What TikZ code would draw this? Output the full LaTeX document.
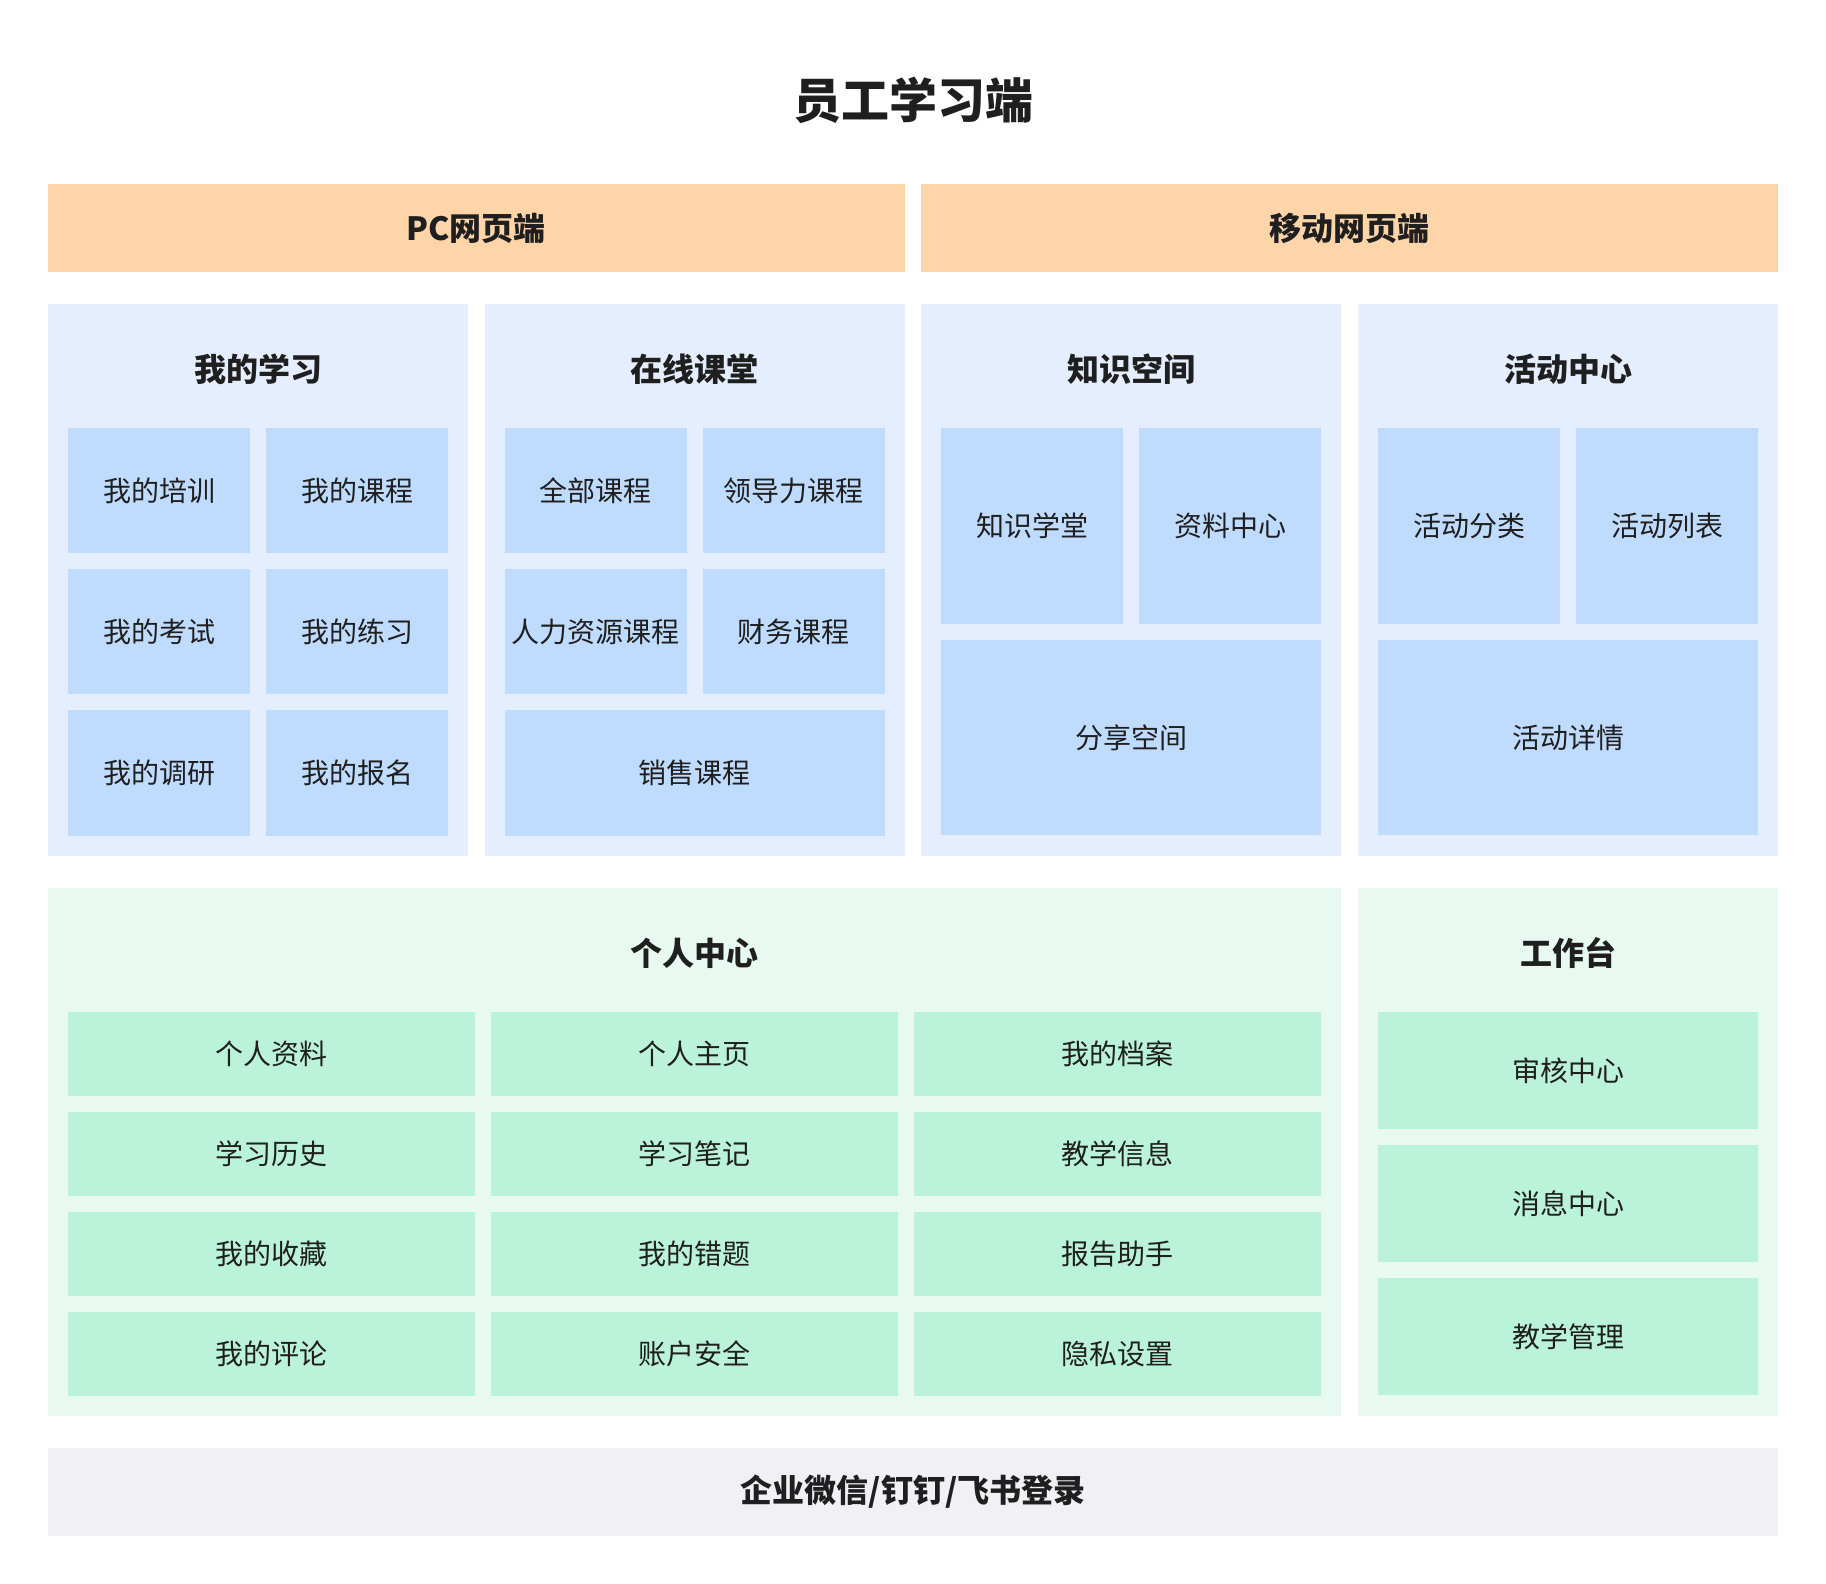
\documentclass[tikz,border=0pt]{standalone}
\usepackage{fontspec}
\usepackage{xcolor}
\newfontfamily\cjk{Noto Sans CJK SC}
\definecolor{barorange}{HTML}{FED5A9}
\definecolor{panelblue}{HTML}{E4EEFE}
\definecolor{itemblue}{HTML}{BFDBFE}
\definecolor{panelgreen}{HTML}{E8F9F1}
\definecolor{itemgreen}{HTML}{BAF3D9}
\definecolor{bargray}{HTML}{F0F0F5}
\definecolor{ink}{HTML}{1F1F1F}

\begin{document}
\begin{tikzpicture}[x=1pt, y=-1pt,
    every node/.style={inner sep=0pt, outer sep=0pt, text=ink},
    bigtitle/.style={font=\cjk\bfseries\fontsize{48}{48}\selectfont},
    topbar/.style={fill=barorange, minimum width=856.67pt, minimum height=88pt,
        font=\cjk\bfseries\fontsize{32}{32}\selectfont},
    panel/.style={minimum width=420pt, minimum height=552pt},
    head/.style={font=\cjk\bfseries\fontsize{32}{32}\selectfont},
    item/.style={font=\cjk\fontsize{28}{28}\selectfont},
    bitem/.style={item, fill=itemblue, minimum width=182pt, minimum height=125.2pt},
    gitem/.style={item, fill=itemgreen, minimum width=407.1pt, minimum height=83.9pt},
    witem/.style={item, fill=itemgreen, minimum width=380pt, minimum height=117.17pt}]

\useasboundingbox (0,0) rectangle (1826,1584);

       % title
\node[bigtitle] (title) at (913,100) {员工学习端};

       % top bars
\node[topbar] (pcbar) at (476.33,228) {PC网页端};
\node[topbar] (mobilebar) at (1349.67,228) {移动网页端};

       % blue panels
\node[panel, fill=panelblue] (study) at (258,580) {};
\node[panel, fill=panelblue] (course) at (694.67,580) {};
\node[panel, fill=panelblue] (know) at (1131.33,580) {};
\node[panel, fill=panelblue] (event) at (1568,580) {};
\node[head] (studyhead) at (258,369) {我的学习};
\node[head] (coursehead) at (694.67,369) {在线课堂};
\node[head] (knowhead) at (1131.33,369) {知识空间};
\node[head] (eventhead) at (1568,369) {活动中心};

	%my study
\node[bitem] (train) at (159,490.6) {我的培训};
\node[bitem] (mycourse) at (357,490.6) {我的课程};
\node[bitem] (exam) at (159,631.7) {我的考试};
\node[bitem] (practice) at (357,631.7) {我的练习};
\node[bitem] (survey) at (159,772.9) {我的调研};
\node[bitem] (signup) at (357,772.9) {我的报名};

	%online courses
\node[bitem] (allcourse) at (595.67,490.6) {全部课程};
\node[bitem] (leadcourse) at (793.67,490.6) {领导力课程};
\node[bitem] (hrcourse) at (595.67,631.7) {人力资源课程};
\node[bitem] (fincourse) at (793.67,631.7) {财务课程};
\node[bitem, minimum width=380pt] (salecourse) at (694.67,772.9) {销售课程};

	%knowledge space
\node[bitem, minimum height=195.75pt] (hall) at (1032.33,525.9) {知识学堂};
\node[bitem, minimum height=195.75pt] (files) at (1230.33,525.9) {资料中心};
\node[bitem, minimum width=380pt, minimum height=195.75pt] (share) at (1131.33,737.6) {分享空间};

	%events
\node[bitem, minimum height=195.75pt] (evtype) at (1469,525.9) {活动分类};
\node[bitem, minimum height=195.75pt] (evlist) at (1667,525.9) {活动列表};
\node[bitem, minimum width=380pt, minimum height=195.75pt] (evdetail) at (1568,737.6) {活动详情};

       % green panels
\node[fill=panelgreen, minimum width=1293.33pt, minimum height=527.5pt] (personal) at (694.67,1151.75) {};
\node[fill=panelgreen, minimum width=420pt, minimum height=527.5pt] (desk) at (1568,1151.75) {};
\node[head] (personalhead) at (694.67,953) {个人中心};
\node[head] (deskhead) at (1568,953) {工作台};

	%personal center
\node[gitem] (profile) at (271.56,1053.95) {个人资料};
\node[gitem] (homepage) at (694.67,1053.95) {个人主页};
\node[gitem] (record) at (1117.78,1053.95) {我的档案};
\node[gitem] (history) at (271.56,1153.85) {学习历史};
\node[gitem] (notes) at (694.67,1153.85) {学习笔记};
\node[gitem] (teachinfo) at (1117.78,1153.85) {教学信息};
\node[gitem] (favs) at (271.56,1253.75) {我的收藏};
\node[gitem] (mistakes) at (694.67,1253.75) {我的错题};
\node[gitem] (reports) at (1117.78,1253.75) {报告助手};
\node[gitem] (comments) at (271.56,1353.65) {我的评论};
\node[gitem] (security) at (694.67,1353.65) {账户安全};
\node[gitem] (privacy) at (1117.78,1353.65) {隐私设置};

	%workbench
\node[witem] (review) at (1568,1070.6) {审核中心};
\node[witem] (messages) at (1568,1203.75) {消息中心};
\node[witem] (teachmgmt) at (1568,1336.9) {教学管理};

       % login bar
\node[topbar, fill=bargray, minimum width=1730pt] (login) at (913,1491.75) {企业微信/钉钉/飞书登录};

\end{tikzpicture}
\end{document}
